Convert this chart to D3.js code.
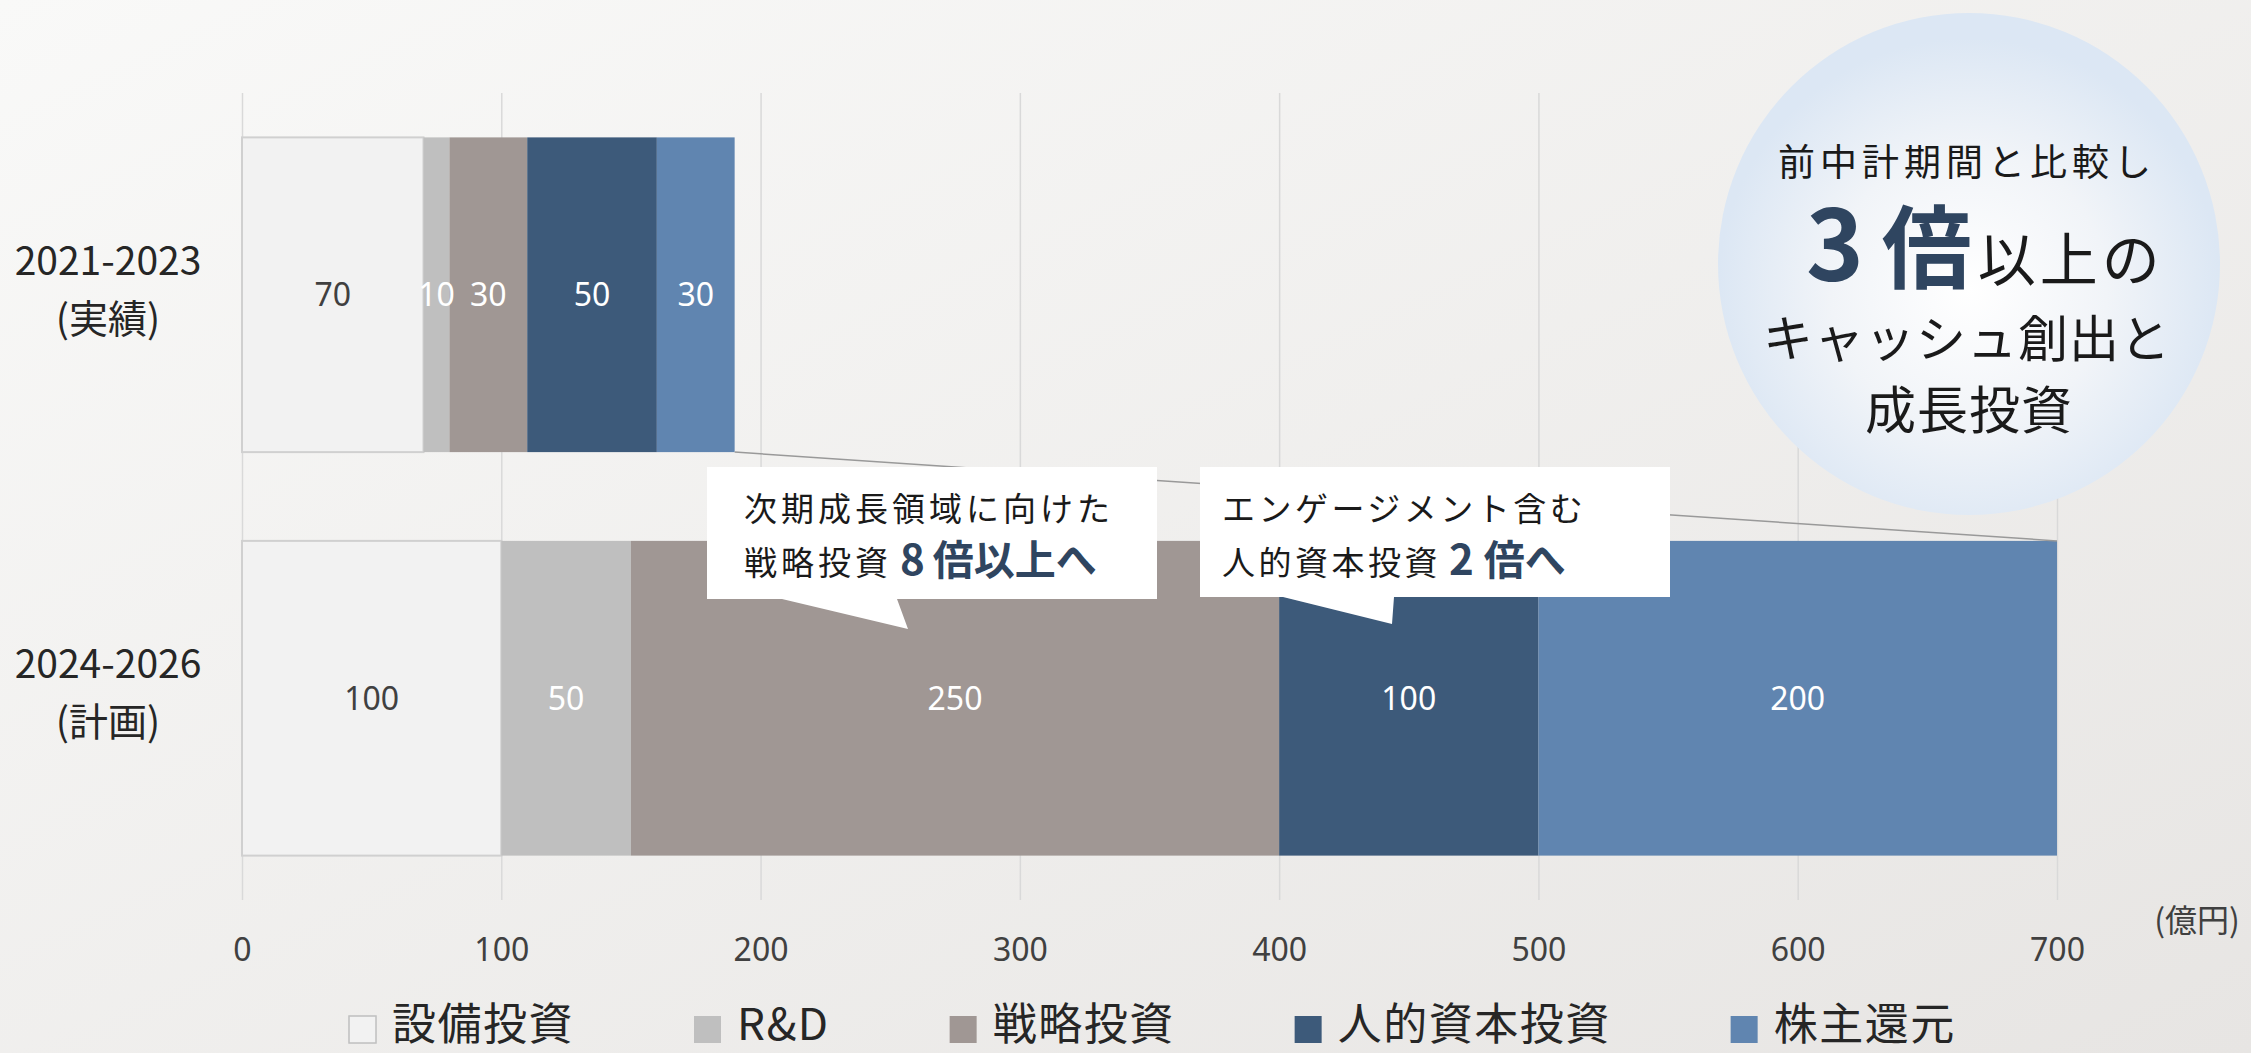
<!DOCTYPE html>
<html><head><meta charset="utf-8">
<script src="https://cdn.jsdelivr.net/npm/d3@7"></script>
<style>
html,body{margin:0;padding:0;overflow:hidden;}
svg{display:block;font-family:"Noto Sans CJK JP","Noto Sans",sans-serif;}
</style></head>
<body>
<svg id="chart" width="2251" height="1053"></svg>
<script>
// ---- data ----
const categories = ["2021-2023", "2024-2026"];
const categorySub = ["(実績)", "(計画)"];
const seriesNames = ["設備投資", "R&D", "戦略投資", "人的資本投資", "株主還元"];
const capex = [70, 100];
const rnd = [10, 50];
const strategic = [30, 250];
const humanCapital = [50, 100];
const shareholderReturn = [30, 200];
const xTicks = [0, 100, 200, 300, 400, 500, 600, 700];
const unitLabel = "(億円)";

// ---- styles ----
const colors = ["#F2F2F2", "#BFBFBF", "#A09794", "#3D5A7A", "#6085B0"];
const labelColors = ["#404040", "#FFFFFF", "#FFFFFF", "#FFFFFF", "#FFFFFF"];
const navy = "#2F4560";

const rows = categories.map((c, i) => ({
  cat: c, sub: categorySub[i],
  [seriesNames[0]]: capex[i], [seriesNames[1]]: rnd[i], [seriesNames[2]]: strategic[i],
  [seriesNames[3]]: humanCapital[i], [seriesNames[4]]: shareholderReturn[i]
}));

const svg = d3.select("#chart");
const W = 2251, H = 1053;

// background gradient
const defs = svg.append("defs");
const bg = defs.append("linearGradient").attr("id", "bg").attr("x1", "0").attr("y1", "0").attr("x2", "1").attr("y2", "1");
bg.append("stop").attr("offset", "0").attr("stop-color", "#F9F9F8");
bg.append("stop").attr("offset", "1").attr("stop-color", "#E7E5E3");
const rg = defs.append("radialGradient").attr("id", "circ").attr("cx", "0.5").attr("cy", "0.55").attr("r", "0.5");
rg.append("stop").attr("offset", "0").attr("stop-color", "#FFFFFF");
rg.append("stop").attr("offset", "0.55").attr("stop-color", "#F1F4F8");
rg.append("stop").attr("offset", "1").attr("stop-color", "#DCE7F4");
svg.append("rect").attr("width", W).attr("height", H).attr("fill", "url(#bg)");

const plotTop = 93, plotBottom = 900;
const x = d3.scaleLinear().domain([0, 700]).range([242, 2057]);
const y = d3.scaleBand().domain(categories).range([plotTop, plotBottom]).paddingInner(0.22).paddingOuter(0.11);

// gridlines + tick labels
const axis = d3.axisBottom(x).tickValues(xTicks).tickSize(-(plotBottom - plotTop)).tickPadding(38).tickFormat(d3.format("d"));
const gAx = svg.append("g").attr("transform", `translate(0,${plotBottom})`).call(axis);
gAx.select(".domain").remove();
gAx.selectAll(".tick line").attr("stroke", "#D9D9D9").attr("stroke-width", 1.5);
gAx.selectAll(".tick text").attr("fill", "#404040").style("font-size", "32px").style("font-family", '"Noto Sans","Noto Sans CJK JP",sans-serif');

svg.append("text").attr("x", 2197).attr("y", 932).attr("text-anchor", "middle")
  .attr("fill", "#404040").style("font-size", "32px").text(unitLabel);

// stacked bars
const stack = d3.stack().keys(seriesNames)(rows);
const gBars = svg.append("g");
stack.forEach((layer, si) => {
  const g = gBars.append("g");
  g.selectAll("rect").data(layer).join("rect")
    .attr("x", d => x(d[0]))
    .attr("y", d => y(d.data.cat))
    .attr("width", d => x(d[1]) - x(d[0]))
    .attr("height", y.bandwidth())
    .attr("fill", colors[si])
    .attr("stroke", si === 0 ? "#D0D0D0" : "none")
    .attr("stroke-width", si === 0 ? 2 : 0);
});
stack.forEach((layer, si) => {
  gBars.append("g").selectAll("text").data(layer).join("text")
    .attr("x", d => (x(d[0]) + x(d[1])) / 2)
    .attr("y", d => y(d.data.cat) + y.bandwidth() / 2)
    .attr("dy", "0.36em")
    .attr("text-anchor", "middle")
    .attr("fill", labelColors[si])
    .style("font-size", "32px")
    .style("font-family", '"Noto Sans","Noto Sans CJK JP",sans-serif')
    .text(d => d[1] - d[0]);
});

// category labels
const gCat = svg.append("g");
rows.forEach(r => {
  const cy = y(r.cat) + y.bandwidth() / 2;
  const t = gCat.append("text").attr("text-anchor", "middle").attr("fill", "#262626").style("font-size", "39px");
  t.append("tspan").attr("x", 108).attr("y", cy - 20).text(r.cat);
  t.append("tspan").attr("x", 108).attr("y", cy + 38).text(r.sub);
});

// connector line from top bar end to bottom bar end
const tot = rows.map(r => seriesNames.reduce((s, k) => s + r[k], 0));
svg.append("line")
  .attr("x1", x(tot[0])).attr("y1", y(categories[0]) + y.bandwidth())
  .attr("x2", x(tot[1])).attr("y2", y(categories[1]))
  .attr("stroke", "#999999").attr("stroke-width", 1.5);

// callouts
function callout(box, tail) {
  const [x0, y0, x1, y1] = box;
  const [bl, br, tx, ty] = tail;
  const p = `M${x0},${y0}H${x1}V${y1}H${br}L${tx},${ty}L${bl},${y1}H${x0}Z`;
  svg.append("path").attr("d", p).attr("fill", "#FFFFFF");
}
callout([707, 467, 1157, 599], [782, 897, 908, 629]);
callout([1200, 467, 1670, 597], [1283, 1394, 1392, 624]);

function ctext(xs, ys, parts) {
  const t = svg.append("text").attr("x", xs).attr("y", ys).attr("fill", "#1A1A1A");
  parts.forEach(p => {
    const s = t.append("tspan").text(p.t).style("font-size", p.fs + "px");
    if (p.bold) s.attr("font-weight", 700).attr("fill", navy);
    if (p.ls != null) s.style("letter-spacing", p.ls + "px");
    if (p.dx) s.attr("dx", p.dx);
  });
}
ctext(744, 521, [{t: "次期成長領域に向けた", fs: 33, ls: 4}]);
ctext(744, 575, [{t: "戦略投資", fs: 33, ls: 4}, {t: "8", fs: 42, bold: true, dx: 8, ls: 8}, {t: "倍以上へ", fs: 41, bold: true, ls: 0}]);
ctext(1222, 521, [{t: "エンゲージメント含む", fs: 33, ls: 3.5}]);
ctext(1222, 575, [{t: "人的資本投資", fs: 33, ls: 3.5}, {t: "2", fs: 42, bold: true, dx: 8, ls: 10}, {t: "倍へ", fs: 41, bold: true, ls: 0}]);

// circle
svg.append("circle").attr("cx", 1969).attr("cy", 264).attr("r", 251).attr("fill", "url(#circ)");
const cTxt = (yy, parts, anchor, xx) => {
  const t = svg.append("text").attr("x", xx).attr("y", yy).attr("text-anchor", anchor).attr("fill", "#1A1A1A");
  parts.forEach(p => {
    const s = t.append("tspan").text(p.t).style("font-size", p.fs + "px");
    if (p.bold) s.attr("font-weight", 700).attr("fill", navy);
    if (p.ls != null) s.style("letter-spacing", p.ls + "px");
    if (p.dx) s.attr("dx", p.dx);
  });
};
cTxt(176, [{t: "前中計期間と比較し", fs: 37, ls: 5}], "start", 1778);
cTxt(281, [{t: "3", fs: 98, bold: true, ls: 0}, {t: "倍", fs: 90, bold: true, dx: 18}, {t: "以上の", fs: 58, ls: 4, dx: 6}], "start", 1806);
cTxt(357, [{t: "キャッシュ創出と", fs: 50, ls: 1}], "start", 1763);
cTxt(429, [{t: "成長投資", fs: 51, ls: 1}], "start", 1865);

// legend
const gLeg = svg.append("g");
let lx = 349;
seriesNames.forEach((n, i) => {
  gLeg.append("rect").attr("x", lx).attr("y", 1016).attr("width", 27).attr("height", 27)
    .attr("fill", colors[i]).attr("stroke", i === 0 ? "#BFBFBF" : "none").attr("stroke-width", 1.5);
  const t = gLeg.append("text").attr("x", lx + 43).attr("y", 1040).attr("fill", "#262626")
    .style("font-size", "44px").style("letter-spacing", "1.5px").text(n);
  lx = lx + 43 + t.node().getComputedTextLength() + 120;
});
</script>
</body></html>
